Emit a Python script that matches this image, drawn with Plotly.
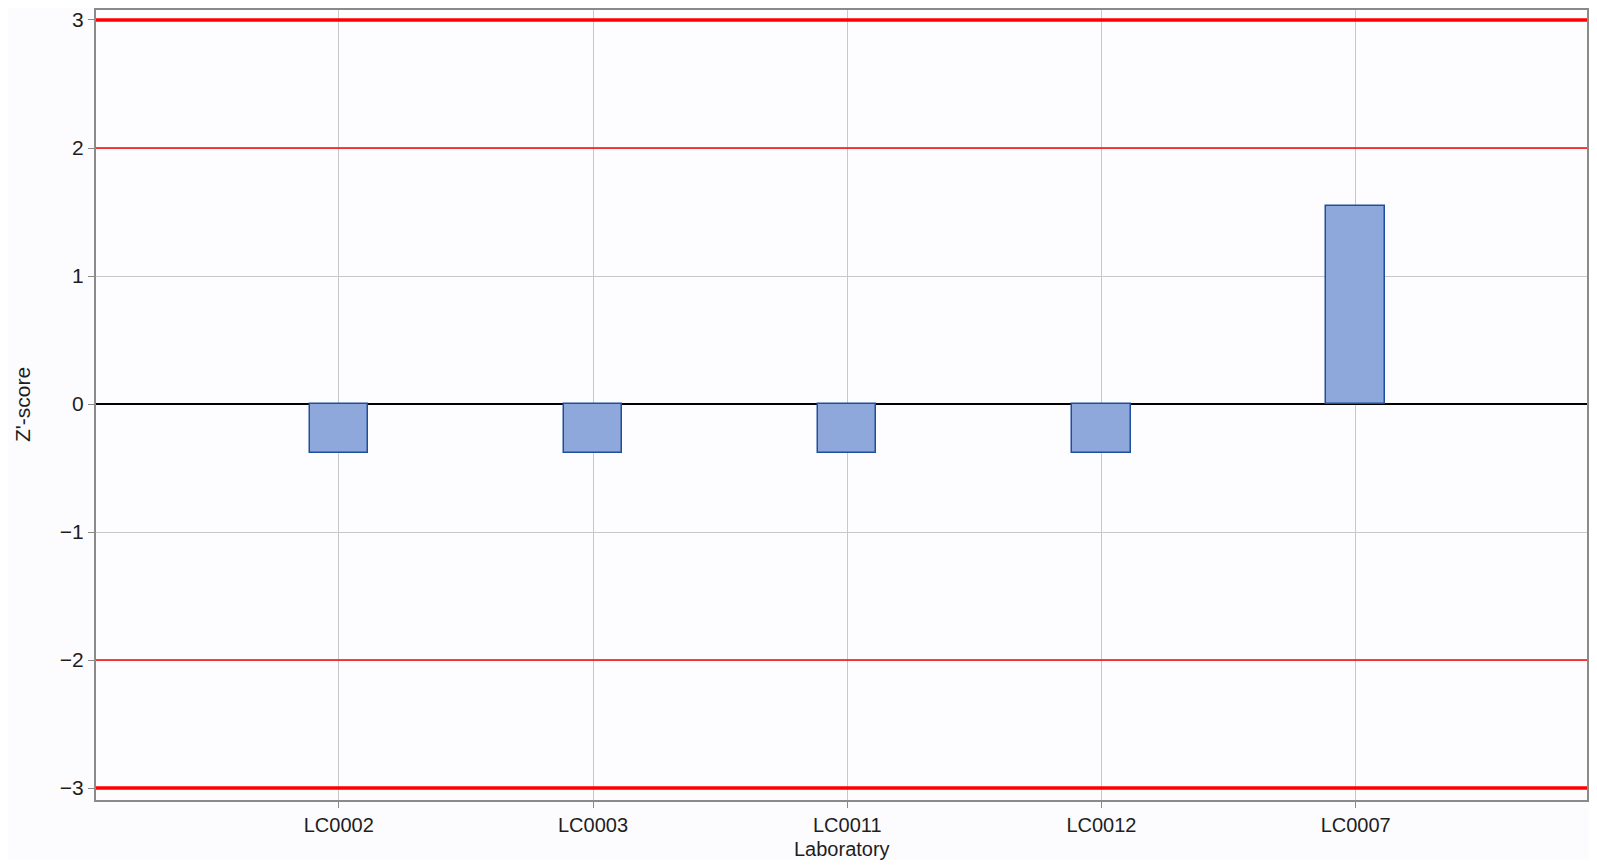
import plotly.graph_objects as go

laboratories = ["LC0002", "LC0003", "LC0011", "LC0012", "LC0007"]
z_scores = [-0.38, -0.38, -0.38, -0.38, 1.55]
y_ticks = [-3, -2, -1, 0, 1, 2, 3]
warning_limits = [-2, 2]
action_limits = [-3, 3]

fig = go.Figure()
fig.add_trace(
    go.Bar(
        x=laboratories,
        y=z_scores,
        width=0.23,
        marker=dict(color="#8ea8db", line=dict(color="#1e4f9f", width=1.5)),
        showlegend=False,
    )
)

for lim in warning_limits:
    fig.add_shape(
        type="line", xref="paper", x0=0, x1=1, yref="y", y0=lim, y1=lim,
        line=dict(color="#ff0000", width=1.5), layer="above",
    )
for lim in action_limits:
    fig.add_shape(
        type="line", xref="paper", x0=0, x1=1, yref="y", y0=lim, y1=lim,
        line=dict(color="#ff0000", width=3.5), layer="above",
    )

# axis titles as annotations so they can be placed exactly
fig.add_annotation(
    text="Laboratory", xref="paper", yref="paper", x=0.5, y=0,
    yanchor="middle", yshift=-49, showarrow=False, font=dict(size=20),
)
fig.add_annotation(
    text="Z'-score", xref="paper", yref="paper", x=0, y=0.5,
    xanchor="center", xshift=-74, textangle=-90, showarrow=False, font=dict(size=21),
)

# page body keeps an 8px margin, so the figure is sized to fit inside it
fig.update_layout(
    width=1581,
    height=852,
    margin=dict(l=88, r=0, t=0, b=60),
    paper_bgcolor="#fcfcfe",
    plot_bgcolor="#fdfdff",
    font=dict(family="Liberation Sans, Arial, sans-serif", size=21, color="#1e1e1e"),
    bargap=0,
)
fig.update_xaxes(
    range=[-0.955, 4.91],
    showgrid=True,
    gridcolor="#c8c8c8",
    gridwidth=1,
    showline=True,
    linecolor="#8a8a8a",
    linewidth=2,
    mirror=True,
    ticks="outside",
    ticklen=6,
    tickcolor="#8a8a8a",
    tickfont=dict(size=20),
)
fig.update_yaxes(
    range=[-3.093, 3.078],
    tickvals=y_ticks,
    showgrid=True,
    gridcolor="#c8c8c8",
    gridwidth=1,
    zeroline=True,
    zerolinecolor="#000000",
    zerolinewidth=1.5,
    showline=True,
    linecolor="#8a8a8a",
    linewidth=2,
    mirror=True,
    ticks="outside",
    ticklen=6,
    tickcolor="#8a8a8a",
    tickfont=dict(size=21),
)

fig.write_html("out.html")
